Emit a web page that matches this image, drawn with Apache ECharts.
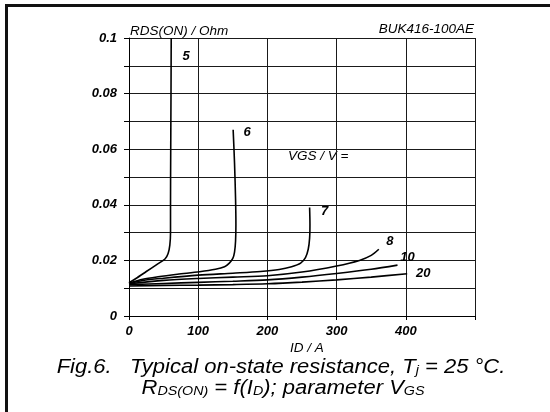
<!DOCTYPE html>
<html>
<head>
<meta charset="utf-8">
<script src="https://cdn.jsdelivr.net/npm/echarts@6/dist/echarts.min.js"></script>
<style>
html,body{margin:0;padding:0;background:#fff;}
#chart{width:550px;height:412px;}
</style>
</head>
<body>
<div id="chart"></div>
<script>
// ---- data ----
const vgsNames = ['5', '6', '7', '8', '10', '20'];
const curve5 = [[0,0.012],[10,0.0135],[25,0.016],[40,0.0185],[52,0.0205],[56.5,0.0225],[59,0.0255],[60,0.03],[60,0.04],[60.3,0.06],[60.7,0.08],[61,0.1]];
const curve6 = [[0,0.0118],[20,0.0132],[42,0.0141],[70,0.015],[102,0.0159],[125,0.0168],[138,0.0177],[145,0.019],[150,0.0207],[152.5,0.023],[154,0.027],[154.5,0.033],[154,0.042],[152.5,0.055],[150.5,0.067]];
const curve7 = [[0,0.0117],[20,0.0128],[50,0.0136],[100,0.0147],[150,0.0154],[190,0.016],[217,0.0167],[235,0.0177],[248,0.019],[255,0.021],[259,0.024],[261,0.028],[261.5,0.033],[261,0.039]];
const curve8 = [[0,0.0116],[50,0.0128],[100,0.0135],[150,0.014],[200,0.0145],[250,0.0158],[300,0.018],[333,0.02],[350,0.0218],[361,0.024]];
const curve10 = [[0,0.0113],[50,0.0117],[100,0.0121],[150,0.0125],[200,0.013],[250,0.014],[300,0.0153],[350,0.0168],[388,0.0183]];
const curve20 = [[0,0.0108],[50,0.011],[100,0.0111],[150,0.0113],[200,0.0116],[250,0.0122],[300,0.013],[350,0.014],[402,0.0152]];
const xTickLabels = ['0', '100', '200', '300', '400', ''];
const yTickLabels = ['0', '', '0.02', '', '0.04', '', '0.06', '', '0.08', '', '0.1'];

// ---- styling ----
const curves = [curve5, curve6, curve7, curve8, curve10, curve20];
const labelOffsets = [[15, 18], [14, 3], [15, 4], [11, -8], [10, -8], [16, 0]];
const FONT = 'Liberation Sans, Arial, sans-serif';
const INK = '#000';

const chart = echarts.init(document.getElementById('chart'), null, {renderer: 'canvas'});

const lineSeries = curves.map((c, i) => ({
  type: 'line',
  name: vgsNames[i],
  data: c,
  showSymbol: false,
  symbol: 'none',
  smooth: 0.3,
  lineStyle: {color: '#000', width: 1.6},
  silent: true,
  z: 3
}));

const labelSeries = {
  type: 'scatter',
  data: curves.map(c => c[c.length - 1]),
  symbolSize: 0,
  itemStyle: {color: '#000', opacity: 1},
  silent: true,
  z: 4,
  label: {
    show: true,
    position: 'inside',
    formatter: p => vgsNames[p.dataIndex],
    fontFamily: FONT,
    fontStyle: 'italic',
    fontWeight: 'bold',
    fontSize: 13,
    color: '#000',
    opacity: 1,
    textBorderWidth: 0
  },
  labelLayout: p => ({dx: labelOffsets[p.dataIndex][0], dy: labelOffsets[p.dataIndex][1]})
};

const capRich = {
  n: {fontFamily: FONT, fontStyle: 'italic', fontSize: 20, lineHeight: 22, verticalAlign: 'top', color: INK},
  s: {fontFamily: FONT, fontStyle: 'italic', fontSize: 13, lineHeight: 22, verticalAlign: 'top', padding: [7, 0, 0, 0], color: INK}
};

const option = {
  animation: false,
  backgroundColor: '#fff',
  grid: {left: 129, right: 75, top: 38, bottom: 96, containLabel: false},
  xAxis: {
    type: 'value', min: 0, max: 500, interval: 100,
    axisLine: {show: true, lineStyle: {color: INK, width: 1}},
    axisTick: {show: true, length: 4, lineStyle: {color: INK}},
    splitLine: {show: true, lineStyle: {color: '#1a1a1a', width: 1}},
    axisLabel: {
      formatter: (v) => xTickLabels[Math.round(v / 100)] || '',
      fontFamily: FONT, fontStyle: 'italic', fontWeight: 'bold', fontSize: 13,
      color: INK, margin: 9
    }
  },
  yAxis: {
    type: 'value', min: 0, max: 0.1, interval: 0.01,
    axisLine: {show: true, lineStyle: {color: INK, width: 1}},
    axisTick: {show: true, length: 5, lineStyle: {color: INK}},
    splitLine: {show: true, lineStyle: {color: '#1a1a1a', width: 1}},
    axisLabel: {
      formatter: v => yTickLabels[Math.round(v * 100)] || '',
      fontFamily: FONT, fontStyle: 'italic', fontWeight: 'bold', fontSize: 13,
      color: INK, margin: 12
    }
  },
  series: lineSeries.concat([labelSeries]),
  graphic: [
    {type: 'rect', shape: {x: 5, y: 4, width: 3, height: 408}, style: {fill: '#111'}, silent: true},
    {type: 'rect', shape: {x: 5, y: 4, width: 545, height: 3}, style: {fill: '#111'}, silent: true},
    {type: 'text', x: 130, y: 31, silent: true,
      style: {text: 'RDS(ON) / Ohm', fontFamily: FONT, fontStyle: 'italic', fontSize: 13.5,
        fill: INK, align: 'left', verticalAlign: 'middle'}},
    {type: 'text', x: 474, y: 29, silent: true,
      style: {text: 'BUK416-100AE', fontFamily: FONT, fontStyle: 'italic', fontSize: 13.5,
        fill: INK, align: 'right', verticalAlign: 'middle'}},
    {type: 'text', x: 288, y: 156, silent: true,
      style: {text: 'VGS / V =', fontFamily: FONT, fontStyle: 'italic', fontSize: 13.5,
        fill: INK, align: 'left', verticalAlign: 'middle'}},
    {type: 'text', x: 307, y: 348, silent: true,
      style: {text: 'ID / A', fontFamily: FONT, fontStyle: 'italic', fontSize: 13.5,
        fill: INK, align: 'center', verticalAlign: 'middle'}},
    {type: 'text', x: 281, y: 357, scaleX: 1.1, silent: true,
      style: {
        text: '{n|Fig.6.   Typical on-state resistance, T}{s|j}{n| = 25 \u00B0C.}',
        align: 'center', verticalAlign: 'top', fill: INK, rich: capRich
      }},
    {type: 'text', x: 283, y: 378, scaleX: 1.1, silent: true,
      style: {
        text: '{n|R}{s|DS(ON)}{n| = f(I}{s|D}{n|); parameter V}{s|GS}',
        align: 'center', verticalAlign: 'top', fill: INK, rich: capRich
      }}
  ]
};

chart.setOption(option);
</script>
</body>
</html>
